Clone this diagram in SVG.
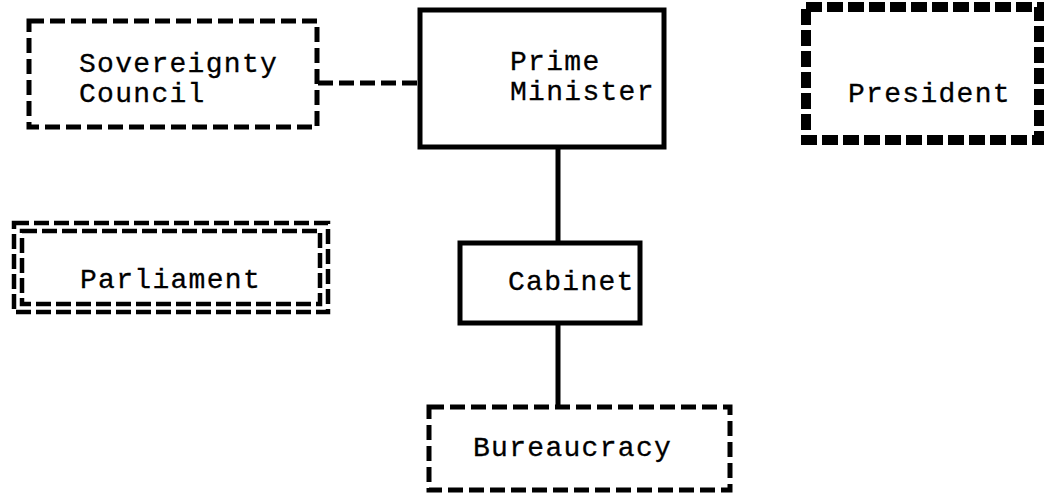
<svg xmlns="http://www.w3.org/2000/svg" width="1046" height="501" viewBox="0 0 1046 501">
<style>
.t{font-family:"Liberation Mono","Courier New",monospace;font-size:28px;letter-spacing:1.3px;fill:#000;stroke:#000;stroke-width:0.3}
.solid{fill:none;stroke:#000;stroke-width:5}
.dash{fill:none;stroke:#000;stroke-width:5;stroke-dasharray:15 6}
.heavy{fill:none;stroke:#000;stroke-width:10;stroke-dasharray:16 5}
.dbl{fill:none;stroke:#000;stroke-width:4.5;stroke-dasharray:15 5}
</style>
<rect width="1046" height="501" fill="#fff"/>
<g id="connectors">
<line x1="318" y1="83" x2="420" y2="83" class="dash"/>
<line x1="558" y1="147" x2="558" y2="243" class="solid" stroke-width="6"/>
<line x1="558" y1="323" x2="558" y2="407" class="solid" stroke-width="6"/>
</g>
<g id="sovereignty-council">
<rect x="29" y="21" width="288" height="106" class="dash"/>
<text class="t" x="79" y="72">Sovereignty</text>
<text class="t" x="79" y="102">Council</text>
</g>
<g id="prime-minister">
<rect x="420" y="10" width="244" height="137" class="solid" stroke-width="6"/>
<text class="t" x="510" y="70">Prime</text>
<text class="t" x="510" y="100">Minister</text>
</g>
<g id="president">
<rect x="806" y="7" width="233" height="133" class="heavy"/>
<text class="t" x="848" y="102">President</text>
</g>
<g id="parliament">
<rect x="14" y="223" width="314" height="89" class="dbl"/>
<rect x="22" y="231" width="298" height="73" class="dbl"/>
<text class="t" x="80" y="288">Parliament</text>
</g>
<g id="cabinet">
<rect x="460" y="243" width="180" height="80" class="solid" stroke-width="6"/>
<text class="t" x="508" y="290">Cabinet</text>
</g>
<g id="bureaucracy">
<rect x="429" y="407" width="301" height="83" class="dash"/>
<text class="t" x="473" y="456">Bureaucracy</text>
</g>
</svg>
